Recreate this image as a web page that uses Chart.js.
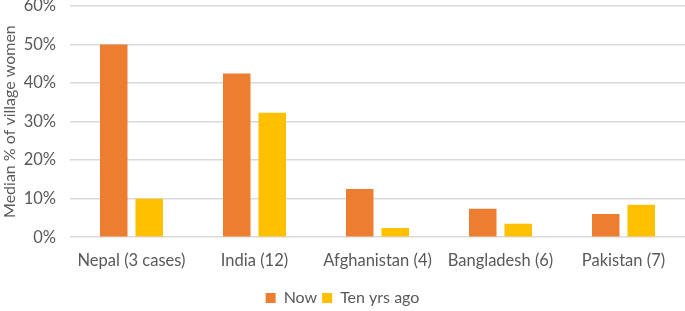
<!DOCTYPE html>
<html>
<head>
<meta charset="utf-8">
<script src="https://cdn.jsdelivr.net/npm/chart.js@4"></script>
<style>
  html,body{margin:0;padding:0;background:#fff;}
  #wrap{width:685px;height:311px;}
</style>
</head>
<body>
<div id="wrap"><canvas id="c" width="685" height="311"></canvas></div>
<script>
const categories = ["Nepal (3 cases)", "India (12)", "Afghanistan (4)", "Bangladesh (6)", "Pakistan (7)"];
const nowValues = [50, 42.5, 12.5, 7.4, 6];
const tenYrsAgo = [10, 32.3, 2.4, 3.5, 8.4];
const seriesNames = ["Now", "Ten yrs ago"];

const grey = "#595959";
Chart.defaults.font.family = "Lato, 'Open Sans', sans-serif";
Chart.defaults.color = grey;

new Chart(document.getElementById("c"), {
  type: "bar",
  data: {
    labels: categories,
    datasets: [
      {label: seriesNames[0], data: nowValues, backgroundColor: "#ED7D31"},
      {label: seriesNames[1], data: tenYrsAgo, backgroundColor: "#FFC000"}
    ]
  },
  options: {
    responsive: false,
    animation: false,
    categoryPercentage: 0.577,
    barPercentage: 0.775,
    layout: {padding: {top: 6, right: 0, left: 0, bottom: -5}},
    plugins: {
      legend: {
        position: "bottom",
        labels: {boxWidth: 10, boxHeight: 10, font: {size: 16}, padding: 5, color: grey}
      },
      tooltip: {enabled: false}
    },
    scales: {
      x: {
        grid: {display: false},
        border: {display: false},
        ticks: {font: {size: 16.5}, color: grey, padding: 6, maxRotation: 0},
        afterFit: s => { s.height += 8; }
      },
      y: {
        min: 0, max: 60,
        ticks: {stepSize: 10, callback: v => v + "%", font: {size: 16.5}, color: grey, padding: 14},
        grid: {color: "#d9d9d9", lineWidth: 1.5, drawTicks: false},
        border: {display: false},
        title: {display: true, text: "Median % of village women", font: {size: 16}, color: grey, padding: {top: 0, bottom: 0}},
        afterFit: s => { s.width = 70; s.paddingTop = 0; s.paddingBottom = 0; }
      }
    }
  }
});
</script>
</body>
</html>
